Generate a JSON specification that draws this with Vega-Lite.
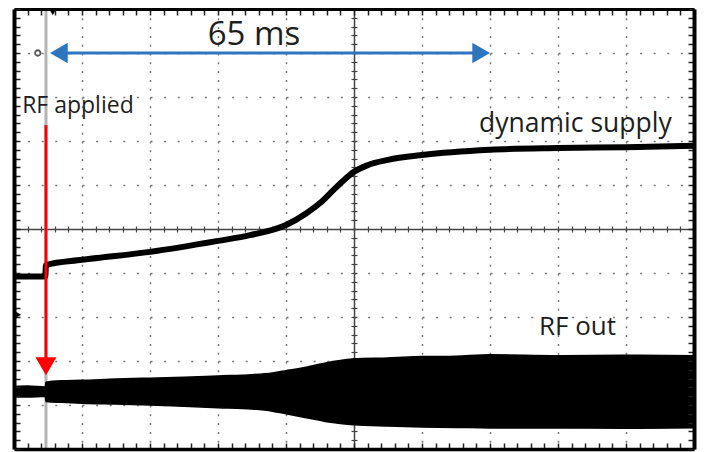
{
  "$schema": "https://vega.github.io/schema/vega-lite/v6.json",
  "width": 680,
  "height": 440,
  "autosize": {"type": "none"},
  "padding": {"left": 14, "top": 9, "right": 10, "bottom": 3},
  "background": "white",
  "config": {"view": {"stroke": null}},
  "datasets": {
    "supply": [
      {"t": 0, "v": 3.92}, {"t": 0.46, "v": 3.92}, {"t": 0.47, "v": 4.18},
      {"t": 1.0, "v": 4.30}, {"t": 2.0, "v": 4.48}, {"t": 3.0, "v": 4.73},
      {"t": 3.47, "v": 4.86}, {"t": 4.0, "v": 5.09}, {"t": 4.3, "v": 5.36},
      {"t": 4.5, "v": 5.59}, {"t": 4.7, "v": 5.89}, {"t": 4.85, "v": 6.11},
      {"t": 5.0, "v": 6.30}, {"t": 5.2, "v": 6.45}, {"t": 5.5, "v": 6.57},
      {"t": 6.0, "v": 6.68}, {"t": 7.0, "v": 6.80}, {"t": 8.0, "v": 6.84},
      {"t": 9.0, "v": 6.86}, {"t": 10, "v": 6.89}
    ],
    "rf": [
      {"t": 0, "hi": 1.42, "lo": 1.19}, {"t": 0.2, "hi": 1.43, "lo": 1.18},
      {"t": 0.46, "hi": 1.41, "lo": 1.20}, {"t": 0.47, "hi": 1.52, "lo": 1.08},
      {"t": 0.7, "hi": 1.55, "lo": 1.06}, {"t": 1.0, "hi": 1.56, "lo": 1.04},
      {"t": 1.5, "hi": 1.59, "lo": 1.02}, {"t": 2.0, "hi": 1.61, "lo": 1.00},
      {"t": 2.5, "hi": 1.63, "lo": 0.97}, {"t": 3.0, "hi": 1.66, "lo": 0.94},
      {"t": 3.5, "hi": 1.69, "lo": 0.91}, {"t": 3.8, "hi": 1.73, "lo": 0.86},
      {"t": 4.0, "hi": 1.78, "lo": 0.80}, {"t": 4.3, "hi": 1.86, "lo": 0.71},
      {"t": 4.6, "hi": 1.96, "lo": 0.62}, {"t": 4.8, "hi": 2.01, "lo": 0.58},
      {"t": 5.0, "hi": 2.05, "lo": 0.55}, {"t": 5.5, "hi": 2.07, "lo": 0.52},
      {"t": 6.0, "hi": 2.10, "lo": 0.50}, {"t": 6.5, "hi": 2.11, "lo": 0.49},
      {"t": 7.0, "hi": 2.14, "lo": 0.48}, {"t": 8.0, "hi": 2.12, "lo": 0.48},
      {"t": 9.0, "hi": 2.13, "lo": 0.47}, {"t": 10, "hi": 2.12, "lo": 0.48}
    ]
  },
  "layer": [
    {
      "data": {"values": [{"t": 0.47, "lo": 0, "hi": 10}]},
      "mark": {"type": "rule", "color": "#b4b4b4", "strokeWidth": 3},
      "encoding": {
        "x": {"field": "t", "type": "quantitative",
          "scale": {"domain": [0, 10], "nice": false, "zero": false},
          "axis": {"values": [1, 2, 3, 4, 6, 7, 8, 9], "grid": true, "gridDash": [2, 6.8], "gridColor": "#777", "gridWidth": 1.5, "ticks": false, "labels": false, "domain": false, "title": null}},
        "y": {"field": "lo", "type": "quantitative",
          "scale": {"domain": [0, 10], "nice": false, "zero": false},
          "axis": {"values": [1, 2, 3, 4, 6, 7, 8, 9], "grid": true, "gridDash": [2, 11.6], "gridColor": "#777", "gridWidth": 1.5, "ticks": false, "labels": false, "domain": false, "title": null}},
        "y2": {"field": "hi"}
      }
    },
    {
      "data": {"name": "rf"},
      "mark": {"type": "area", "color": "black", "stroke": "black", "strokeWidth": 1.5, "interpolate": "monotone"},
      "encoding": {
        "x": {"field": "t", "type": "quantitative",
          "axis": {"orient": "top", "offset": -440, "zindex": 2, "values": [0,0.2,0.4,0.6,0.8,1,1.2,1.4,1.6,1.8,2,2.2,2.4,2.6,2.8,3,3.2,3.4,3.6,3.8,4,4.2,4.4,4.6,4.8,5,5.2,5.4,5.6,5.8,6,6.2,6.4,6.6,6.8,7,7.2,7.4,7.6,7.8,8,8.2,8.4,8.6,8.8,9,9.2,9.4,9.6,9.8,10], "tickSize": 6, "tickColor": "#222", "tickWidth": 1.5, "domainColor": "black", "domainWidth": 3.5, "labels": false, "grid": false, "title": null}},
        "y": {"field": "hi", "type": "quantitative",
          "axis": {"orient": "right", "offset": -680, "zindex": 2, "values": [0,0.2,0.4,0.6,0.8,1,1.2,1.4,1.6,1.8,2,2.2,2.4,2.6,2.8,3,3.2,3.4,3.6,3.8,4,4.2,4.4,4.6,4.8,5,5.2,5.4,5.6,5.8,6,6.2,6.4,6.6,6.8,7,7.2,7.4,7.6,7.8,8,8.2,8.4,8.6,8.8,9,9.2,9.4,9.6,9.8,10], "tickSize": 6, "tickColor": "#222", "tickWidth": 1.5, "domainColor": "black", "domainWidth": 4, "labels": false, "grid": false, "title": null}},
        "y2": {"field": "lo"}
      }
    },
    {
      "data": {"name": "supply"},
      "mark": {"type": "line", "color": "black", "strokeWidth": 6, "interpolate": "monotone"},
      "encoding": {
        "x": {"field": "t", "type": "quantitative",
          "axis": {"orient": "bottom", "offset": -440, "zindex": 2, "values": [0,0.2,0.4,0.6,0.8,1,1.2,1.4,1.6,1.8,2,2.2,2.4,2.6,2.8,3,3.2,3.4,3.6,3.8,4,4.2,4.4,4.6,4.8,5,5.2,5.4,5.6,5.8,6,6.2,6.4,6.6,6.8,7,7.2,7.4,7.6,7.8,8,8.2,8.4,8.6,8.8,9,9.2,9.4,9.6,9.8,10], "tickSize": 6, "tickColor": "#222", "tickWidth": 1.5, "domainColor": "black", "domainWidth": 3, "labels": false, "grid": false, "title": null}},
        "y": {"field": "v", "type": "quantitative",
          "axis": {"orient": "left", "offset": -680, "zindex": 2, "values": [0,0.2,0.4,0.6,0.8,1,1.2,1.4,1.6,1.8,2,2.2,2.4,2.6,2.8,3,3.2,3.4,3.6,3.8,4,4.2,4.4,4.6,4.8,5,5.2,5.4,5.6,5.8,6,6.2,6.4,6.6,6.8,7,7.2,7.4,7.6,7.8,8,8.2,8.4,8.6,8.8,9,9.2,9.4,9.6,9.8,10], "tickSize": 6, "tickColor": "#222", "tickWidth": 1.5, "domainColor": "black", "domainWidth": 4, "labels": false, "grid": false, "title": null}}
      }
    },
    {
      "data": {"values": [{"t0": 0.66, "t1": 6.87, "v": 9.0}]},
      "mark": {"type": "rule", "color": "#2E75C0", "strokeWidth": 3},
      "encoding": {
        "x": {"field": "t0", "type": "quantitative",
          "axis": {"orient": "bottom", "offset": -220, "values": [0,0.2,0.4,0.6,0.8,1,1.2,1.4,1.6,1.8,2,2.2,2.4,2.6,2.8,3,3.2,3.4,3.6,3.8,4,4.2,4.4,4.6,4.8,5,5.2,5.4,5.6,5.8,6,6.2,6.4,6.6,6.8,7,7.2,7.4,7.6,7.8,8,8.2,8.4,8.6,8.8,9,9.2,9.4,9.6,9.8,10], "tickSize": 3, "tickColor": "#444", "tickWidth": 1.2, "domainColor": "#444", "domainWidth": 1.5, "labels": false, "grid": false, "title": null}},
        "x2": {"field": "t1"},
        "y": {"field": "v", "type": "quantitative",
          "axis": {"orient": "left", "offset": -340, "values": [0,0.2,0.4,0.6,0.8,1,1.2,1.4,1.6,1.8,2,2.2,2.4,2.6,2.8,3,3.2,3.4,3.6,3.8,4,4.2,4.4,4.6,4.8,5,5.2,5.4,5.6,5.8,6,6.2,6.4,6.6,6.8,7,7.2,7.4,7.6,7.8,8,8.2,8.4,8.6,8.8,9,9.2,9.4,9.6,9.8,10], "tickSize": 3, "tickColor": "#444", "tickWidth": 1.2, "domainColor": "#444", "domainWidth": 1.5, "labels": false, "grid": false, "title": null}}
      }
    },
    {
      "data": {"values": [{"t": 0.66, "v": 9.0, "s": "triangle-left"}, {"t": 6.87, "v": 9.0, "s": "triangle-right"}]},
      "mark": {"type": "point", "filled": true, "color": "#2E75C0", "size": 420, "opacity": 1},
      "encoding": {
        "x": {"field": "t", "type": "quantitative",
          "axis": {"orient": "top", "offset": -220, "values": [0,0.2,0.4,0.6,0.8,1,1.2,1.4,1.6,1.8,2,2.2,2.4,2.6,2.8,3,3.2,3.4,3.6,3.8,4,4.2,4.4,4.6,4.8,5,5.2,5.4,5.6,5.8,6,6.2,6.4,6.6,6.8,7,7.2,7.4,7.6,7.8,8,8.2,8.4,8.6,8.8,9,9.2,9.4,9.6,9.8,10], "tickSize": 3, "tickColor": "#444", "tickWidth": 1.2, "domain": false, "labels": false, "grid": false, "title": null}},
        "y": {"field": "v", "type": "quantitative",
          "axis": {"orient": "right", "offset": -340, "values": [0,0.2,0.4,0.6,0.8,1,1.2,1.4,1.6,1.8,2,2.2,2.4,2.6,2.8,3,3.2,3.4,3.6,3.8,4,4.2,4.4,4.6,4.8,5,5.2,5.4,5.6,5.8,6,6.2,6.4,6.6,6.8,7,7.2,7.4,7.6,7.8,8,8.2,8.4,8.6,8.8,9,9.2,9.4,9.6,9.8,10], "tickSize": 3, "tickColor": "#444", "tickWidth": 1.2, "domain": false, "labels": false, "grid": false, "title": null}},
        "shape": {"field": "s", "type": "nominal", "scale": null, "legend": null}
      }
    },
    {
      "data": {"values": [{"t": 0.47, "a": 7.36, "b": 2.05}]},
      "mark": {"type": "rule", "color": "#ff0000", "strokeWidth": 3},
      "encoding": {
        "x": {"field": "t", "type": "quantitative", "axis": null},
        "y": {"field": "a", "type": "quantitative", "axis": null},
        "y2": {"field": "b"}
      }
    },
    {
      "data": {"values": [{"t": 0.47, "v": 1.88}]},
      "mark": {"type": "point", "shape": "triangle-down", "filled": true, "color": "#ff0000", "size": 440, "opacity": 1},
      "encoding": {
        "x": {"field": "t", "type": "quantitative", "axis": null},
        "y": {"field": "v", "type": "quantitative", "axis": null}
      }
    },
    {
      "data": {"values": [{"t": 0.35, "v": 9.0}]},
      "mark": {"type": "point", "shape": "circle", "filled": false, "color": "#555", "size": 30, "strokeWidth": 1.8, "opacity": 1},
      "encoding": {
        "x": {"field": "t", "type": "quantitative", "axis": null},
        "y": {"field": "v", "type": "quantitative", "axis": null}
      }
    },
    {
      "data": {"values": [{"t": 0.57, "v": 9.93, "s": "triangle-down"}, {"t": 0.06, "v": 3.05, "s": "triangle-right"}]},
      "mark": {"type": "point", "filled": true, "color": "black", "size": 50, "opacity": 1},
      "encoding": {
        "x": {"field": "t", "type": "quantitative", "axis": null},
        "y": {"field": "v", "type": "quantitative", "axis": null},
        "shape": {"field": "s", "type": "nominal", "scale": null, "legend": null}
      }
    },
    {
      "data": {"values": [
        {"t": 3.53, "v": 9.18, "label": "65 ms"}
      ]},
      "mark": {"type": "text", "font": "Open Sans", "color": "#1e1e1e", "baseline": "alphabetic", "align": "center", "fontSize": 33},
      "encoding": {
        "x": {"field": "t", "type": "quantitative", "axis": null},
        "y": {"field": "v", "type": "quantitative", "axis": null},
        "text": {"field": "label"}
      }
    },
    {
      "data": {"values": [
        {"t": 0.12, "v": 7.64, "label": "RF applied", "size": 23},
        {"t": 6.84, "v": 7.20, "label": "dynamic supply", "size": 26.5},
        {"t": 7.72, "v": 2.59, "label": "RF out", "size": 26}
      ]},
      "mark": {"type": "text", "font": "Open Sans", "color": "#1e1e1e", "baseline": "alphabetic", "align": "left"},
      "encoding": {
        "x": {"field": "t", "type": "quantitative", "axis": null},
        "y": {"field": "v", "type": "quantitative", "axis": null},
        "text": {"field": "label"},
        "size": {"field": "size", "type": "quantitative", "scale": null, "legend": null}
      }
    }
  ],
  "resolve": {"axis": {"x": "independent", "y": "independent"}}
}
